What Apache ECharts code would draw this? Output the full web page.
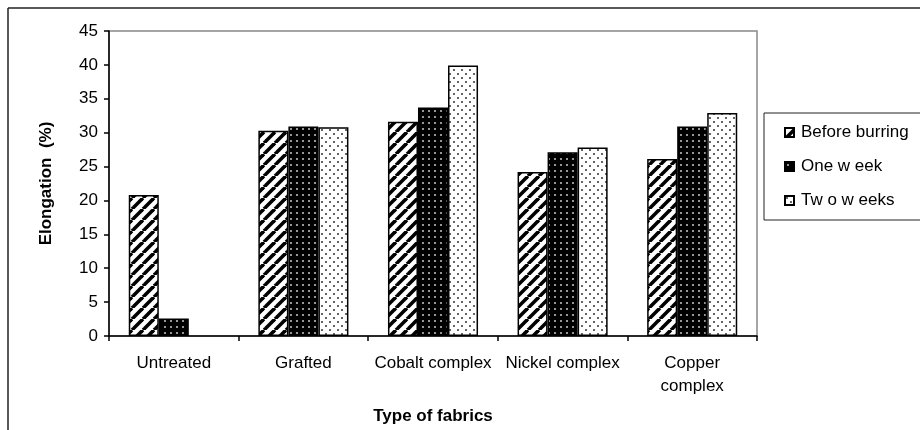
<!DOCTYPE html>
<html>
<head>
<meta charset="utf-8">
<script src="https://cdn.jsdelivr.net/npm/echarts@6/dist/echarts.min.js"></script>
<style>
  html, body { margin: 0; padding: 0; background: #fff; }
  #chart { width: 920px; height: 430px; }
</style>
</head>
<body>
<div id="chart"></div>
<script>
// Elongation of the fabric samples before and after burring
const categories = ['Untreated', 'Grafted', 'Cobalt complex', 'Nickel complex', 'Copper\ncomplex'];
const beforeBurring = [20.8, 30.3, 31.6, 24.2, 26.1];
const oneWeek = [2.6, 30.9, 33.7, 27.1, 30.9];
const twoWeeks = [null, 30.8, 39.9, 27.8, 32.9];
const seriesNames = ['Before burring', 'One w eek', 'Tw o w eeks'];
const yTicks = { min: 0, max: 45, interval: 5 };

// Fill patterns drawn on small tiles
function tile(size, draw) {
  const c = document.createElement('canvas');
  c.width = size; c.height = size;
  draw(c.getContext('2d'), size);
  return c;
}
const hatch = tile(11, (g, s) => {
  g.fillStyle = '#fff'; g.fillRect(0, 0, s, s);
  g.strokeStyle = '#000'; g.lineWidth = 3.6;
  [-s, 0, s].forEach(dx => {
    g.beginPath(); g.moveTo(dx, s); g.lineTo(dx + s, 0); g.stroke();
  });
});
const blackDots = tile(6, (g, s) => {
  g.fillStyle = '#000'; g.fillRect(0, 0, s, s);
  g.fillStyle = '#bbb';
  g.beginPath(); g.arc(3, 3, 1.1, 0, Math.PI * 2); g.fill();
});
const whiteDots = tile(8, (g, s) => {
  g.fillStyle = '#fff'; g.fillRect(0, 0, s, s);
  g.fillStyle = '#333';
  g.beginPath(); g.arc(2, 2, 1.0, 0, Math.PI * 2); g.fill();
  g.beginPath(); g.arc(6, 6, 1.0, 0, Math.PI * 2); g.fill();
});
const fills = [hatch, blackDots, whiteDots];
const values = [beforeBurring, oneWeek, twoWeeks];

const font = '"Liberation Sans", Arial, sans-serif';
const chart = echarts.init(document.getElementById('chart'), null, { renderer: 'canvas' });

chart.setOption({
  animation: false,
  backgroundColor: '#fff',
  textStyle: { fontFamily: font },
  grid: {
    left: 109, top: 31, right: 163, bottom: 94,
    show: true, borderColor: '#888', borderWidth: 1.5, backgroundColor: 'transparent'
  },
  legend: {
    orient: 'vertical',
    left: 779, top: 119,
    itemWidth: 9, itemHeight: 9, itemGap: 17,
    icon: 'rect',
    textStyle: { fontFamily: font, fontSize: 17, color: '#000', padding: [0, 0, 0, 2] },
    data: seriesNames,
    selectedMode: false
  },
  xAxis: {
    type: 'category',
    data: categories,
    name: 'Type of fabrics',
    nameLocation: 'middle',
    nameGap: 72,
    nameTextStyle: { fontFamily: font, fontSize: 17, fontWeight: 'bold', color: '#000' },
    axisLine: { lineStyle: { color: '#000', width: 1.5 } },
    axisTick: { show: true, interval: 0, length: 5, lineStyle: { color: '#000', width: 1.5 } },
    axisLabel: { interval: 0, fontFamily: font, fontSize: 17, color: '#000', margin: 16, lineHeight: 23 },
    splitLine: { show: false }
  },
  yAxis: {
    type: 'value',
    min: yTicks.min, max: yTicks.max, interval: yTicks.interval,
    name: 'Elongation  (%)',
    nameLocation: 'middle',
    nameGap: 54,
    nameTextStyle: { fontFamily: font, fontSize: 17, fontWeight: 'bold', color: '#000' },
    axisLine: { show: true, lineStyle: { color: '#000', width: 1.5 } },
    axisTick: { show: true, length: 5, lineStyle: { color: '#000', width: 1.5 } },
    axisLabel: { fontFamily: font, fontSize: 17, color: '#000', margin: 11 },
    splitLine: { show: false }
  },
  series: seriesNames.map((name, i) => ({
    name,
    type: 'bar',
    data: values[i],
    barGap: '0%',
    barCategoryGap: '30.5%',
    itemStyle: {
      color: { image: fills[i], repeat: 'repeat' },
      borderColor: '#000',
      borderWidth: 1.5
    }
  })),
  graphic: [
    // outer frame
    { type: 'line', shape: { x1: 8, y1: 8, x2: 920, y2: 8 }, style: { stroke: '#222', lineWidth: 1.5 } },
    { type: 'line', shape: { x1: 8, y1: 8, x2: 8, y2: 430 }, style: { stroke: '#222', lineWidth: 1.5 } },
    // legend box
    { type: 'rect', shape: { x: 764, y: 113, width: 170, height: 107 }, style: { fill: 'none', stroke: '#222', lineWidth: 1 }, z: -1 }
  ]
});
</script>
</body>
</html>
